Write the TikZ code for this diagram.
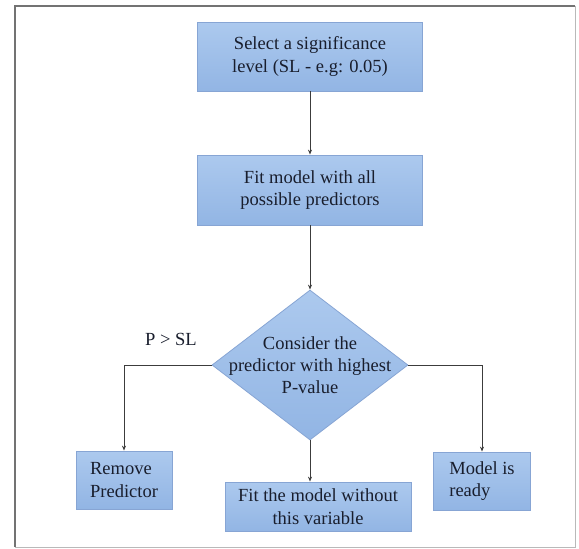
\documentclass[tikz,border=0pt]{standalone}
\usepackage{fontspec}
\setmainfont{Liberation Serif}
\newfontfamily\tmsfont{Liberation Serif}
\usetikzlibrary{shapes.geometric,arrows.meta}
\definecolor{boxtop}{RGB}{172,201,238}
\definecolor{boxbot}{RGB}{146,181,228}
\definecolor{boxline}{RGB}{135,165,212}
\definecolor{txt}{RGB}{25,30,45}
\definecolor{conn}{RGB}{60,60,60}
\tikzset{
  flowbox/.style={draw=boxline, line width=0.8pt, top color=boxtop, bottom color=boxbot,
    inner sep=0pt, text=txt, font=\tmsfont\fontsize{18.5}{22.5}\selectfont},
  decide/.style={diamond, draw=boxline, line width=0.8pt, top color=boxtop, bottom color=boxbot,
    inner sep=0pt, minimum width=196pt, minimum height=150pt},
  plain/.style={text=txt, font=\tmsfont\fontsize{18.5}{22}\selectfont, inner sep=0pt},
  conn/.style={draw=conn, line width=1pt, -{Stealth[length=5pt,width=4pt]}}
}
\begin{document}
\begin{tikzpicture}[x=1pt,y=-1pt]
\useasboundingbox (0,0) rectangle (579,549);
% frame
\draw[gray!55, line width=0.8pt] (575,6) -- (575,547) -- (15,547);
\draw[gray!90!black, line width=1.2pt] (15,547) -- (15,6) -- (575,6);
% nodes
\node[flowbox, minimum width=225pt, minimum height=69pt, align=center] (s1) at (310,56.5)
  {Select a significance\\level (SL - e.g: 0.05)};
\node[flowbox, minimum width=225pt, minimum height=70pt, align=center] (s2) at (310,190)
  {Fit model with all\\possible predictors};
\node[decide] (d) at (310,365) {};
\node[plain, align=center] (dt) at (d.center) {Consider the\\predictor with highest\\P-value};
\node[flowbox, minimum width=96pt, minimum height=58pt, align=left] (rm) at (124,480)
  {Remove\\Predictor};
\node[flowbox, minimum width=186pt, minimum height=49pt, align=center] (fit) at (318,506.5)
  {Fit the model without\\this variable};
\node[flowbox, minimum width=97pt, minimum height=58pt, align=left] (ok) at (482,481)
  {Model is\\ready};
\node[plain] (psl) at (171,339) {P > SL};
% connectors
\draw[conn] (s1.south) -- (s2.north);
\draw[conn] (s2.south) -- (d.north);
\draw[conn] (d.west) -| (rm.north);
\draw[conn] (d.south) -- (d.south |- fit.north);
\draw[conn] (d.east) -| (ok.north);
\end{tikzpicture}
\end{document}
